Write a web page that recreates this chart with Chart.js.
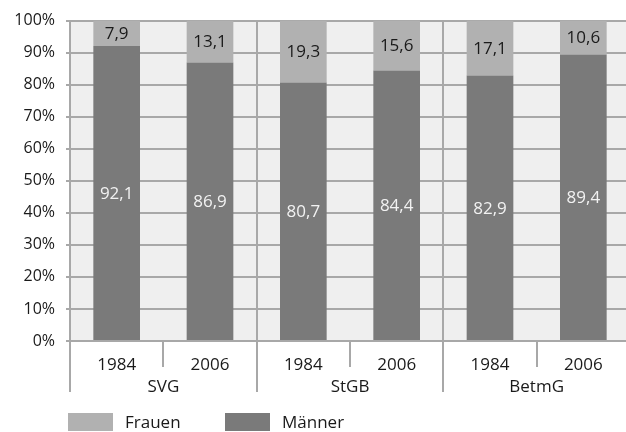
<!DOCTYPE html>
<html>
<head>
<meta charset="utf-8">
<script src="https://cdn.jsdelivr.net/npm/chart.js@4.4.1/dist/chart.umd.min.js"></script>
<style>
  html, body { margin: 0; padding: 0; background: #fff; overflow: hidden; }
  #wrap { width: 630px; height: 432px; position: relative; }
</style>
</head>
<body>
<div id="wrap"><canvas id="chart"></canvas></div>
<script>
// =====================
// Data
// =====================
const years = ["1984", "2006", "1984", "2006", "1984", "2006"];
const groups = ["SVG", "StGB", "BetmG"];
const maenner = [92.1, 86.9, 80.7, 84.4, 82.9, 89.4];
const frauen = [7.9, 13.1, 19.3, 15.6, 17.1, 10.6];
const yTicks = [0, 10, 20, 30, 40, 50, 60, 70, 80, 90, 100];

const FONT = "'Open Sans', 'DejaVu Sans', sans-serif";
const gridColor = "#a8a8a8";
const textColor = "#1a1a1a";

// =====================
// Plugins
// =====================
const plotBackground = {
    id: "plotBackground",
    beforeDraw(chart) {
        const { ctx, chartArea: a } = chart;
        ctx.save();
        ctx.fillStyle = "#efefef";
        ctx.fillRect(a.left, a.top, a.right - a.left, a.bottom - a.top);
        ctx.restore();
    }
};

// group separators and year ticks below the axis
const separators = {
    id: "separators",
    afterDraw(chart) {
        const { ctx, chartArea: a } = chart;
        const xs = chart.scales.x;
        const slot = (xs.right - xs.left) / years.length;
        ctx.save();
        ctx.strokeStyle = gridColor;
        ctx.lineWidth = 2;
        for (let i = 0; i <= years.length; i++) {
            const x = Math.round(xs.left + i * slot);
            ctx.beginPath();
            if (i % 2 === 0) {
                ctx.moveTo(x, a.top);
                ctx.lineTo(x, a.bottom + 51);
            } else {
                ctx.moveTo(x, a.bottom);
                ctx.lineTo(x, a.bottom + 26);
            }
            ctx.stroke();
        }
        ctx.restore();
    }
};

// value labels inside each segment
const valueLabels = {
    id: "valueLabels",
    afterDatasetsDraw(chart) {
        const { ctx } = chart;
        ctx.save();
        ctx.font = "17px " + FONT;
        ctx.textAlign = "center";
        ctx.textBaseline = "middle";
        chart.data.datasets.forEach((ds, di) => {
            const meta = chart.getDatasetMeta(di);
            ctx.fillStyle = ds.labelColor;
            meta.data.forEach((bar, i) => {
                const txt = ds.data[i].toFixed(1).replace(".", ",");
                ctx.fillText(txt, bar.x, (bar.y + bar.base) / 2 + 1);
            });
        });
        ctx.restore();
    }
};

// legend under the chart
const bottomLegend = {
    id: "bottomLegend",
    afterDraw(chart) {
        const { ctx, chartArea: a } = chart;
        const items = chart.data.datasets.slice().reverse();
        let x = a.left - 2;
        const y = 413;
        ctx.save();
        ctx.font = "17px " + FONT;
        ctx.textBaseline = "middle";
        ctx.textAlign = "left";
        items.forEach(ds => {
            ctx.fillStyle = ds.backgroundColor;
            ctx.fillRect(x, y, 45, 18);
            ctx.fillStyle = textColor;
            ctx.fillText(ds.label, x + 57, y + 10);
            x += 157;
        });
        ctx.restore();
    }
};

// =====================
// Chart
// =====================
const ctx = document.getElementById("chart").getContext("2d");
new Chart(ctx, {
    type: "bar",
    data: {
        labels: years,
        datasets: [
            { label: "Männer", data: maenner, backgroundColor: "#7a7a7a", labelColor: "#f2f2f2" },
            { label: "Frauen", data: frauen, backgroundColor: "#b1b1b1", labelColor: "#1a1a1a" }
        ]
    },
    options: {
        responsive: true,
        maintainAspectRatio: false,
        animation: false,
        categoryPercentage: 1,
        barPercentage: 0.5,
        layout: { padding: { top: 20, right: 0, bottom: 35, left: 0 } },
        plugins: {
            legend: { display: false },
            tooltip: { enabled: false }
        },
        scales: {
            x: {
                stacked: true,
                afterFit(scale) { scale.height = 32; },
                grid: { display: false, drawTicks: false },
                border: { display: false },
                ticks: { color: textColor, font: { family: FONT, size: 17 }, padding: 14, maxRotation: 0 }
            },
            x2: {
                type: "category",
                labels: groups,
                position: "bottom",
                offset: true,
                afterFit(scale) { scale.height = 24; },
                grid: { display: false, drawTicks: false },
                border: { display: false },
                ticks: { color: textColor, font: { family: FONT, size: 17 }, padding: 4 }
            },
            y: {
                stacked: true,
                min: 0,
                max: 100,
                afterFit(scale) { scale.width = 70; },
                afterBuildTicks(scale) { scale.ticks = yTicks.map(v => ({ value: v })); },
                grid: { color: gridColor, lineWidth: 2, tickLength: 4 },
                border: { display: true, color: gridColor, width: 2 },
                ticks: {
                    color: textColor,
                    font: { family: FONT, size: 16 },
                    padding: 11,
                    callback: v => v + "%"
                }
            }
        }
    },
    plugins: [plotBackground, separators, valueLabels, bottomLegend]
});
</script>
</body>
</html>
